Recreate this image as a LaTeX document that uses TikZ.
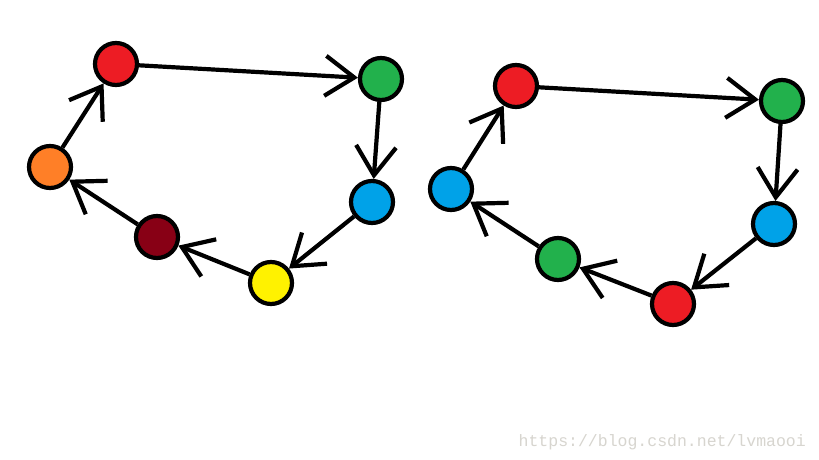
\documentclass[tikz,border=0pt]{standalone}
\usepackage{fontspec}
\newfontfamily\markfont{Liberation Mono}
\usetikzlibrary{arrows.meta}
\definecolor{pred}{RGB}{237,28,36}
\definecolor{pgreen}{RGB}{34,177,76}
\definecolor{pblue}{RGB}{0,162,232}
\definecolor{pyellow}{RGB}{255,242,0}
\definecolor{pmaroon}{RGB}{136,0,21}
\definecolor{porange}{RGB}{255,127,39}
\definecolor{pmark}{RGB}{215,213,207}

\begin{document}
\begin{tikzpicture}[x=1pt,y=-1pt,
	dot/.style={circle,draw=black,line width=4.2pt,minimum size=42pt,inner sep=0pt},
	edge/.style={line width=4.2pt,-{Straight Barb[length=29pt,width=40pt,line width=4.2pt]}}]
	\useasboundingbox[fill=white] (0,0) rectangle (819,460);
	% left cycle
	\foreach \nm/\px/\py/\col in {a1/116/64/pred, a2/381/79/pgreen, a3/372/202/pblue, a4/271/283/pyellow, a5/157/237/pmaroon, a6/50/167/porange} {
		\node[dot,fill=\col] (\nm) at (\px,\py) {};
	}
	% right cycle
	\foreach \nm/\px/\py/\col in {b1/516/86/pred, b2/782/101/pgreen, b3/774/224/pblue, b4/673/304/pred, b5/558/259/pgreen, b6/451/189/pblue} {
		\node[dot,fill=\col] (\nm) at (\px,\py) {};
	}
	\foreach \s/\t in {1/2, 2/3, 3/4, 4/5, 5/6, 6/1} {
		\draw[edge] (a\s) -- (a\t);
		\draw[edge] (b\s) -- (b\t);
	}
	\node[anchor=base east,text=pmark,font=\markfont\fontsize{16.5}{17}\selectfont,inner sep=0pt] (mark) at (806,446) {https://blog.csdn.net/lvmaooi};
\end{tikzpicture}
\end{document}
